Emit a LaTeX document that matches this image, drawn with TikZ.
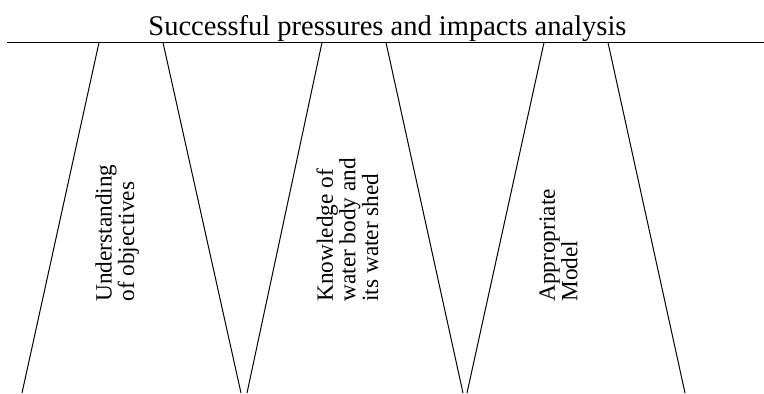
\documentclass[tikz,border=0pt]{standalone}
\usepackage{fontspec}
\setmainfont{Liberation Serif}
\usetikzlibrary{positioning}

\begin{document}
\begin{tikzpicture}[
  x=0.5pt, y=-0.5pt,
  ttl/.style={font=\fontsize{14.25}{17}\selectfont, inner sep=0pt, anchor=base},
  lbl/.style={font=\fontsize{11.65}{11.3}\selectfont, align=left, rotate=90, anchor=north west, inner sep=0pt},
  ln/.style={line width=0.5pt},
  bar/.style={line width=0.65pt}]
\useasboundingbox (0,0) rectangle (764,393);
% ---------------- heading and bar ----------------
\node[ttl] (head) at (387.5,35) {Successful pressures and impacts analysis};
\coordinate (barL) at (7,42.5);
\coordinate (barR) at (764,42.5);
\draw[bar] (barL) -- (barR);
% ---------------- pillars ----------------
\draw[ln] (99,42.5) -- (22,393);
\draw[ln] (163,42.5) -- (241,393);
\draw[ln] (322,42.5) -- (247,393);
\draw[ln] (386,42.5) -- (463,393);
\draw[ln] (544,42.5) -- (467,393);
\draw[ln] (608,42.5) -- (685,393);
% ---------------- labels ----------------
\node[lbl] (obj) at (95,302) {Understanding\\of objectives};
\node[lbl] (know) at (316,302) {Knowledge of\\water body and\\its water shed};
\node[lbl] (model) at (539,302) {Appropriate\\Model};
\end{tikzpicture}
\end{document}
